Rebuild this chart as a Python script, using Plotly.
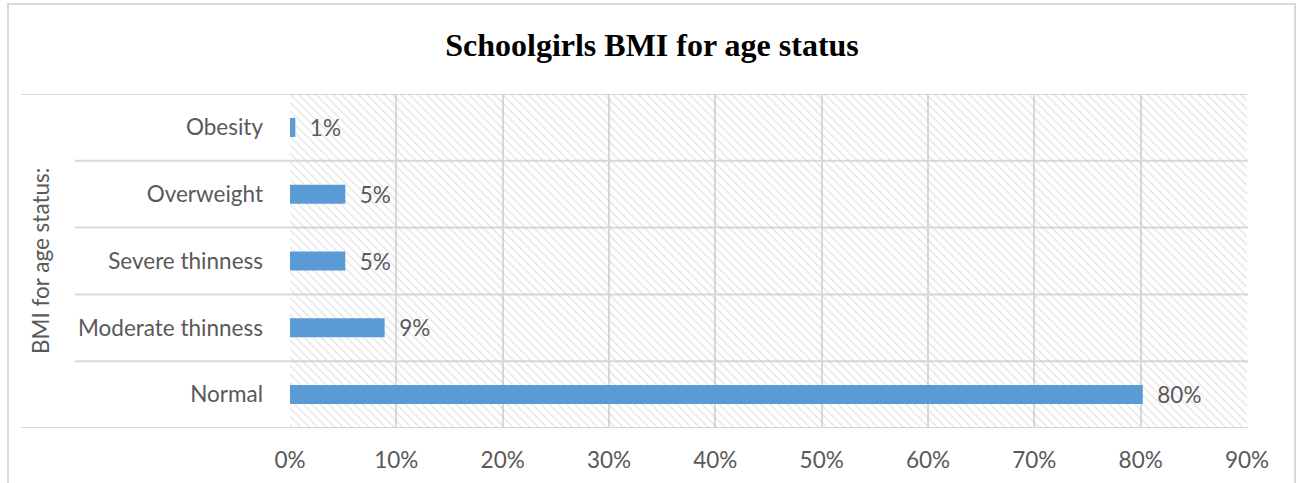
import plotly.graph_objects as go

categories = ["Normal", "Moderate thinness", "Severe thinness", "Overweight", "Obesity"]
values = [80.2, 8.9, 5.2, 5.2, 0.5]
value_labels = ["80%", "9%", "5%", "5%", "1%"]
x_ticks = [0, 10, 20, 30, 40, 50, 60, 70, 80, 90]
x_tick_labels = ["0%", "10%", "20%", "30%", "40%", "50%", "60%", "70%", "80%", "90%"]
title_text = "Schoolgirls BMI for age status"
y_title = "BMI for age status:"

W, H = 1297, 483
L, R, T, B = 290, 50, 94, 55
pw, ph = W - L - R, H - T - B

def px_x(p):
    return (p - L) / pw

def px_y(p):
    return (H - B - p) / ph

GRID = "#d9d9d9"
TXT = "#595959"
FONT = "Lato, 'Open Sans', sans-serif"
FS = 22.5

idx = list(range(len(categories)))
n = len(categories)

fig = go.Figure()

# hatched plot-area background (one rectangle covering the plot area)
fig.add_trace(go.Bar(
    x=[x_ticks[-1]], y=[(n - 1) / 2], orientation="h", width=n,
    marker=dict(color="rgba(0,0,0,0)", line=dict(width=0),
                pattern=dict(shape="\\", size=6, solidity=0.22, fgcolor="#c8c8c8",
                             bgcolor="rgba(0,0,0,0)")),
    hoverinfo="skip", showlegend=False,
))

fig.add_trace(go.Bar(
    x=values, y=idx, orientation="h", width=0.285,
    marker=dict(color="#5b9bd5", line=dict(width=0)),
    text=value_labels, texttemplate="  %{text}", textposition="outside",
    textfont=dict(color=TXT, size=FS, family=FONT), constraintext="none",
    cliponaxis=False, showlegend=False,
))

shapes = []
for k in range(n + 1):
    yv = k - 0.5
    outer = k in (0, n)
    shapes.append(dict(type="line", xref="paper", yref="y",
                       x0=px_x(21) if outer else px_x(75), x1=px_x(1248),
                       y0=yv, y1=yv, line=dict(color=GRID, width=2), layer="below"))
# outer chart border
shapes.append(dict(type="rect", xref="paper", yref="paper",
                   x0=px_x(8), x1=px_x(1295), y0=px_y(500), y1=px_y(4),
                   line=dict(color=GRID, width=2), fillcolor="rgba(0,0,0,0)", layer="below"))

fig.update_layout(
    width=W, height=H,
    margin=dict(l=L, r=R, t=T, b=B, pad=0, autoexpand=False),
    paper_bgcolor="white", plot_bgcolor="white",
    barmode="overlay",
    title=dict(text="<b>" + title_text + "</b>", xref="container", x=652 / W, xanchor="center",
               yref="container", y=1 - 45 / H, yanchor="middle",
               font=dict(family="'Liberation Serif', 'Times New Roman', serif", size=32, color="black")),
    xaxis=dict(range=[0, 90], tickvals=x_ticks, ticktext=x_tick_labels, showgrid=True,
               gridcolor=GRID, gridwidth=2, zeroline=False, showline=False, ticks="",
               automargin=False,
               tickfont=dict(family=FONT, size=FS, color=TXT), ticklabelstandoff=16),
    yaxis=dict(range=[-0.5, n - 0.5], tickvals=idx, ticktext=categories, showgrid=False,
               zeroline=False, showline=False, ticks="", automargin=False,
               tickfont=dict(family=FONT, size=FS, color=TXT), ticklabelstandoff=26),
    shapes=shapes,
    annotations=[dict(text=y_title, xref="paper", yref="paper", x=px_x(40), y=0.5,
                      textangle=-90, showarrow=False, xanchor="center", yanchor="middle",
                      font=dict(family=FONT, size=FS, color=TXT))],
)

fig.write_html("out.html")
